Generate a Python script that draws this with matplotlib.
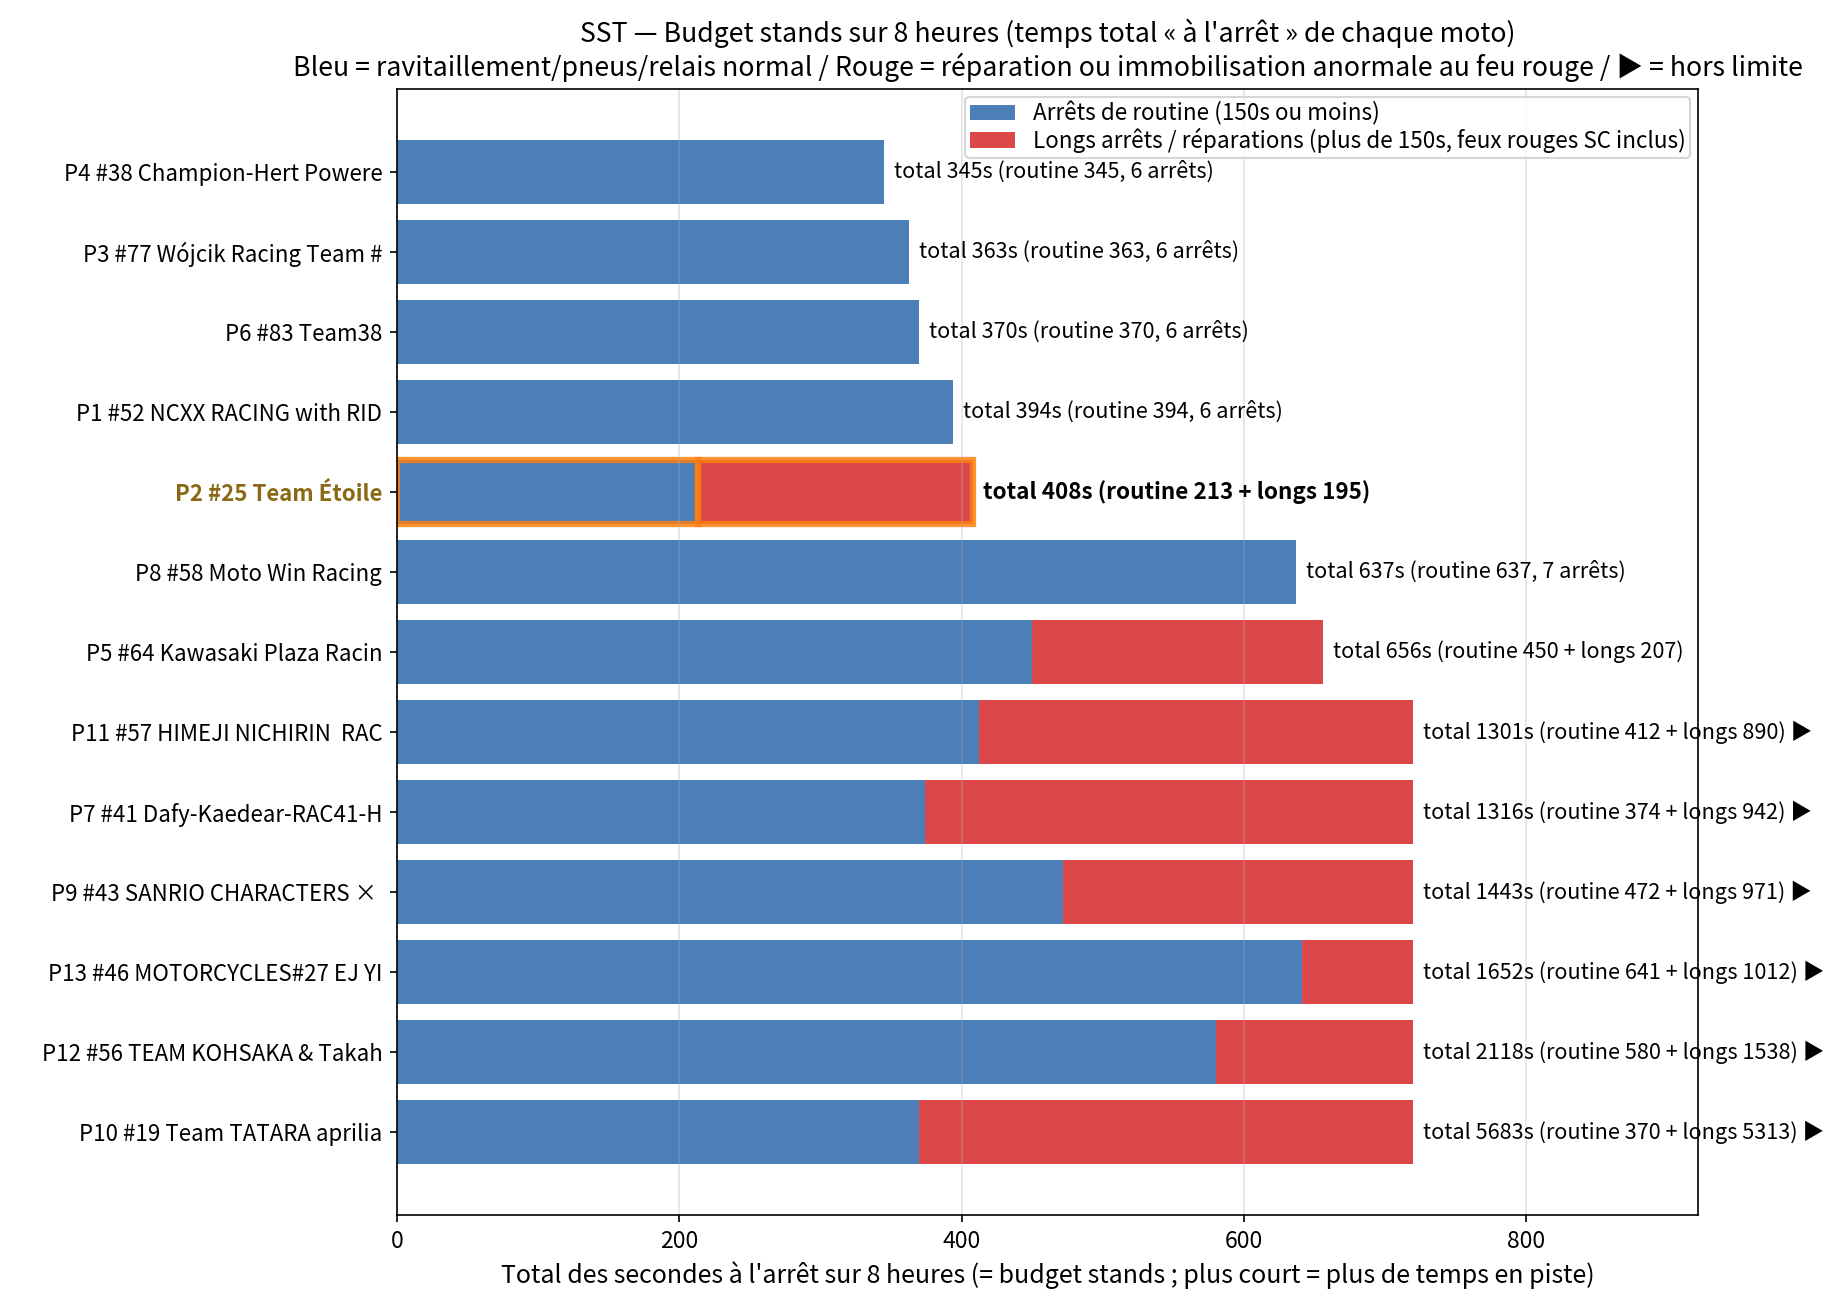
import matplotlib
matplotlib.use("Agg")
import matplotlib.pyplot as plt
import numpy as np
from matplotlib.patches import Patch

plt.rcParams["font.family"] = ["Noto Sans CJK JP", "DejaVu Sans"]

# --- data (top to bottom) ---
labels = [
    "P4 #38 Champion-Hert Powere",
    "P3 #77 Wójcik Racing Team #",
    "P6 #83 Team38",
    "P1 #52 NCXX RACING with RID",
    "P2 #25 Team Étoile",
    "P8 #58 Moto Win Racing",
    "P5 #64 Kawasaki Plaza Racin",
    "P11 #57 HIMEJI NICHIRIN  RAC",
    "P7 #41 Dafy-Kaedear-RAC41-H",
    "P9 #43 SANRIO CHARACTERS × ",
    "P13 #46 MOTORCYCLES#27 EJ YI",
    "P12 #56 TEAM KOHSAKA & Takah",
    "P10 #19 Team TATARA aprilia",
]
totals = [345, 363, 370, 394, 408, 637, 656, 1301, 1316, 1443, 1652, 2118, 5683]
routine = [345, 363, 370, 394, 213, 637, 450, 412, 374, 472, 641, 580, 370]
longs = [0, 0, 0, 0, 195, 0, 207, 890, 942, 971, 1012, 1538, 5313]
n_stops = [6, 6, 6, 6, 0, 7, 0, 0, 0, 0, 0, 0, 0]
highlight = "P2 #25 Team Étoile"
cap = 720

BLUE = "#4C7EB8"
RED = "#DC484A"
ORANGE = (1.0, 0.5, 0.05, 0.85)
GOLD = "#8B6914"

fig = plt.figure(figsize=(12.16, 8.72), dpi=150)
ax = fig.add_axes([0.2176, 0.071, 0.931 - 0.2176, 0.932 - 0.071])

y = np.arange(len(labels))
shown = np.minimum(np.array(totals, float), cap)
rout = np.array(routine, float)
red_w = np.clip(shown - rout, 0, None)

for i, lab in enumerate(labels):
    hl = lab == highlight
    kw = dict(edgecolor=ORANGE, linewidth=3) if hl else dict(linewidth=0)
    ax.barh(y[i], rout[i], height=0.8, color=BLUE, **kw)
    if red_w[i] > 0:
        ax.barh(y[i], red_w[i], left=rout[i], height=0.8, color=RED, **kw)

    if longs[i] > 0:
        txt = f"total {totals[i]}s (routine {routine[i]} + longs {longs[i]})"
    else:
        txt = f"total {totals[i]}s (routine {routine[i]}, {n_stops[i]} arrêts)"
    if totals[i] > cap:
        txt += " ▶"
    ax.text(shown[i] + 7, y[i], txt, va="center", ha="left",
            fontsize=10.8 if hl else 10.4,
            fontweight="bold" if hl else "normal", clip_on=False)

ax.set_yticks(y)
ax.set_yticklabels(labels, fontsize=10.7)
for t in ax.get_yticklabels():
    if t.get_text() == highlight:
        t.set_color(GOLD)
        t.set_fontweight("bold")
ax.invert_yaxis()

ax.set_xlim(0, cap * 1.28)
ax.tick_params(axis="x", labelsize=11)
ax.grid(axis="x", color="#b0b0b0", alpha=0.35, linewidth=0.8)
ax.set_xlabel("Total des secondes à l'arrêt sur 8 heures (= budget stands ; plus court = plus de temps en piste)",
              fontsize=12)
ax.set_title("SST — Budget stands sur 8 heures (temps total « à l'arrêt » de chaque moto)\n"
             "Bleu = ravitaillement/pneus/relais normal / Rouge = réparation ou immobilisation anormale au feu rouge / ▶ = hors limite",
             fontsize=12.8)

handles = [Patch(facecolor=BLUE, label="Arrêts de routine (150s ou moins)"),
           Patch(facecolor=RED, label="Longs arrêts / réparations (plus de 150s, feux rouges SC inclus)")]
ax.legend(handles=handles, loc="upper right", fontsize=10.8,
          labelspacing=0.1, borderpad=0.2, borderaxespad=0.35)

fig.savefig("out.png", dpi=150)
